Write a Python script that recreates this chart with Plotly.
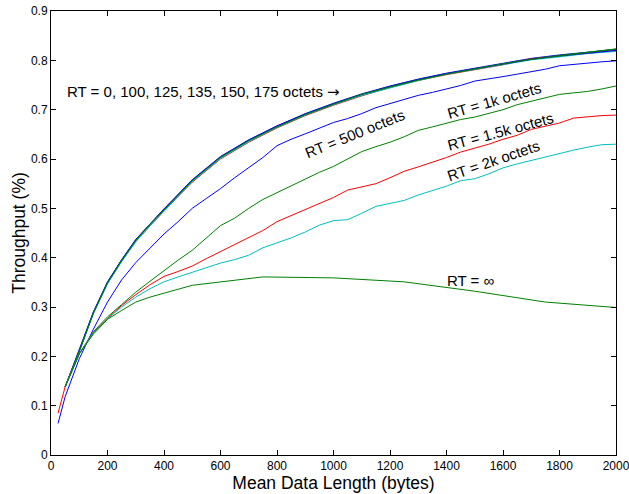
import plotly.graph_objects as go

# ---------------- data ----------------
bundle_x = [50, 100, 150, 200, 250, 300, 350, 400, 500, 600, 700, 800, 900, 1000,
            1100, 1200, 1300, 1400, 1500, 1600, 1700, 1800, 1900, 2000]
rt0 = [0.138, 0.212, 0.290, 0.351, 0.396, 0.437, 0.469, 0.499, 0.558, 0.605, 0.639, 0.667, 0.692, 0.713,
       0.732, 0.748, 0.762, 0.774, 0.784, 0.794, 0.804, 0.811, 0.817, 0.822]
rt100 = [0.138, 0.211, 0.289, 0.350, 0.395, 0.436, 0.468, 0.498, 0.557, 0.604, 0.638, 0.666, 0.691, 0.712,
         0.731, 0.747, 0.761, 0.773, 0.783, 0.793, 0.803, 0.810, 0.816, 0.823]
rt125_x = [25, 50, 100, 150, 200, 250, 300, 350, 400, 500, 600, 700, 800, 900, 1000,
           1100, 1200, 1300, 1400, 1500, 1600, 1700, 1800, 1900, 2000]
rt125 = [0.085, 0.138, 0.210, 0.287, 0.348, 0.393, 0.433, 0.465, 0.495, 0.553, 0.600, 0.634, 0.663, 0.688, 0.709,
         0.728, 0.745, 0.759, 0.771, 0.781, 0.791, 0.803, 0.808, 0.814, 0.820]
rt135 = [0.138, 0.209, 0.286, 0.347, 0.392, 0.432, 0.464, 0.494, 0.554, 0.601, 0.635, 0.664, 0.689, 0.710,
         0.729, 0.744, 0.759, 0.772, 0.782, 0.792, 0.801, 0.807, 0.814, 0.818]
rt150 = [0.138, 0.211, 0.289, 0.350, 0.395, 0.436, 0.467, 0.498, 0.557, 0.604, 0.638, 0.667, 0.691, 0.712,
         0.731, 0.747, 0.761, 0.773, 0.783, 0.792, 0.802, 0.809, 0.815, 0.820]
rt175 = [0.138, 0.210, 0.288, 0.349, 0.394, 0.435, 0.467, 0.497, 0.556, 0.603, 0.637, 0.665, 0.690, 0.711,
         0.731, 0.746, 0.760, 0.772, 0.783, 0.793, 0.802, 0.809, 0.816, 0.823]

step_x = [50, 100, 150, 200, 250, 300, 350, 400, 450, 500, 550, 600, 650, 700, 750, 800, 850, 900,
          950, 1000, 1050, 1100, 1150, 1200, 1250, 1300, 1350, 1400, 1450, 1500, 1550, 1600, 1650,
          1700, 1750, 1800, 1850, 1900, 1950, 2000]
rt500_x = [25] + step_x
rt500 = [0.064, 0.118, 0.195, 0.255, 0.310, 0.355, 0.390, 0.420, 0.448, 0.473, 0.500, 0.520, 0.540,
         0.562, 0.583, 0.603, 0.627, 0.640, 0.651, 0.663, 0.674, 0.682, 0.692, 0.704, 0.712, 0.721,
         0.729, 0.735, 0.742, 0.749, 0.758, 0.762, 0.767, 0.772, 0.777, 0.782, 0.789, 0.792, 0.795,
         0.797, 0.799]
rt1k = [0.138, 0.205, 0.250, 0.280, 0.305, 0.330, 0.352, 0.374, 0.395, 0.415, 0.440, 0.465, 0.480,
        0.500, 0.518, 0.532, 0.546, 0.560, 0.573, 0.585, 0.600, 0.615, 0.625, 0.634, 0.645, 0.658,
        0.665, 0.672, 0.680, 0.685, 0.693, 0.700, 0.710, 0.717, 0.724, 0.731, 0.734, 0.737, 0.742,
        0.748]
rt1500 = [0.138, 0.205, 0.248, 0.277, 0.303, 0.325, 0.345, 0.362, 0.372, 0.383, 0.398, 0.412, 0.426,
          0.440, 0.455, 0.473, 0.485, 0.497, 0.510, 0.522, 0.537, 0.543, 0.550, 0.562, 0.575, 0.584,
          0.593, 0.603, 0.614, 0.622, 0.630, 0.640, 0.648, 0.660, 0.667, 0.673, 0.683, 0.686, 0.688,
          0.689]
rt2k = [0.138, 0.205, 0.247, 0.276, 0.300, 0.320, 0.337, 0.351, 0.361, 0.370, 0.380, 0.389, 0.396,
        0.405, 0.420, 0.430, 0.440, 0.452, 0.466, 0.475, 0.477, 0.490, 0.504, 0.510, 0.516, 0.527,
        0.536, 0.545, 0.556, 0.560, 0.570, 0.582, 0.590, 0.597, 0.605, 0.612, 0.618, 0.624, 0.629,
        0.630]
inf_x = [50, 100, 150, 200, 250, 300, 350, 400, 450, 500, 750, 1000, 1250, 1500, 1750, 2000]
rtinf = [0.138, 0.205, 0.245, 0.275, 0.293, 0.310, 0.320, 0.328, 0.336, 0.344, 0.361, 0.359, 0.351,
         0.332, 0.310, 0.299]

x_ticks = [0, 200, 400, 600, 800, 1000, 1200, 1400, 1600, 1800, 2000]
y_ticks = [0, 0.1, 0.2, 0.3, 0.4, 0.5, 0.6, 0.7, 0.8, 0.9]
y_tick_labels = ["0", "0.1", "0.2", "0.3", "0.4", "0.5", "0.6", "0.7", "0.8", "0.9"]

BLUE, GREEN, RED, CYAN = "#0000FF", "#008000", "#FF0000", "#00BFBF"

series = [
    ("RT=0", bundle_x, rt0, BLUE),
    ("RT=100", bundle_x, rt100, GREEN),
    ("RT=125", rt125_x, rt125, RED),
    ("RT=135", bundle_x, rt135, CYAN),
    ("RT=150", bundle_x, rt150, BLUE),
    ("RT=175", bundle_x, rt175, GREEN),
    ("RT=500", rt500_x, rt500, BLUE),
    ("RT=1k", step_x, rt1k, GREEN),
    ("RT=1.5k", step_x, rt1500, RED),
    ("RT=2k", step_x, rt2k, CYAN),
    ("RT=inf", inf_x, rtinf, GREEN),
]

fig = go.Figure()
for name, xs, ys, col in series:
    fig.add_trace(go.Scatter(x=xs, y=ys, mode="lines", name=name,
                             line=dict(color=col, width=1)))

FONT = "Liberation Sans, Arial, Helvetica, sans-serif"
ann_font = dict(family=FONT, size=15, color="black")
annotations = [
    dict(x=50, y=0.736,
         text="RT = 0, 100, 125, 135, 150, 175 octets <span style=\"font-family:'DejaVu Sans'\">→</span>",
         xanchor="left", yanchor="middle", showarrow=False, font=ann_font),
    dict(x=1077, y=0.651, text="RT = 500 octets", textangle=-22, showarrow=False, font=ann_font),
    dict(x=1569, y=0.718, text="RT = 1k octets", textangle=-16, showarrow=False, font=ann_font),
    dict(x=1590, y=0.655, text="RT = 1.5k octets", textangle=-15, showarrow=False, font=ann_font),
    dict(x=1566, y=0.597, text="RT = 2k octets", textangle=-19, showarrow=False, font=ann_font),
    dict(x=1485, y=0.354, text="RT = ∞", showarrow=False, font=ann_font),
]

axis_common = dict(showgrid=False, zeroline=False, showline=True, linecolor="black", linewidth=1,
                   mirror="allticks", ticks="inside", ticklen=5, tickcolor="black",
                   ticklabeloverflow="allow", automargin=False,
                   tickfont=dict(family=FONT, size=12, color="black"))

fig.update_layout(
    width=629, height=494,
    margin=dict(l=51, r=13, t=11, b=39),
    paper_bgcolor="white", plot_bgcolor="white",
    showlegend=False,
    annotations=annotations,
    xaxis=dict(range=[0, 2000], tickvals=x_ticks, ticktext=[str(v) for v in x_ticks],
               title=dict(text="Mean Data Length (bytes)", font=dict(family=FONT, size=17.5, color="black"),
                          standoff=0),
               **axis_common),
    yaxis=dict(range=[0, 0.9], tickvals=y_ticks, ticktext=y_tick_labels,
               title=dict(text="Throughput (%)", font=dict(family=FONT, size=17.5, color="black"),
                          standoff=0),
               **axis_common),
)

fig.write_html("out.html")
